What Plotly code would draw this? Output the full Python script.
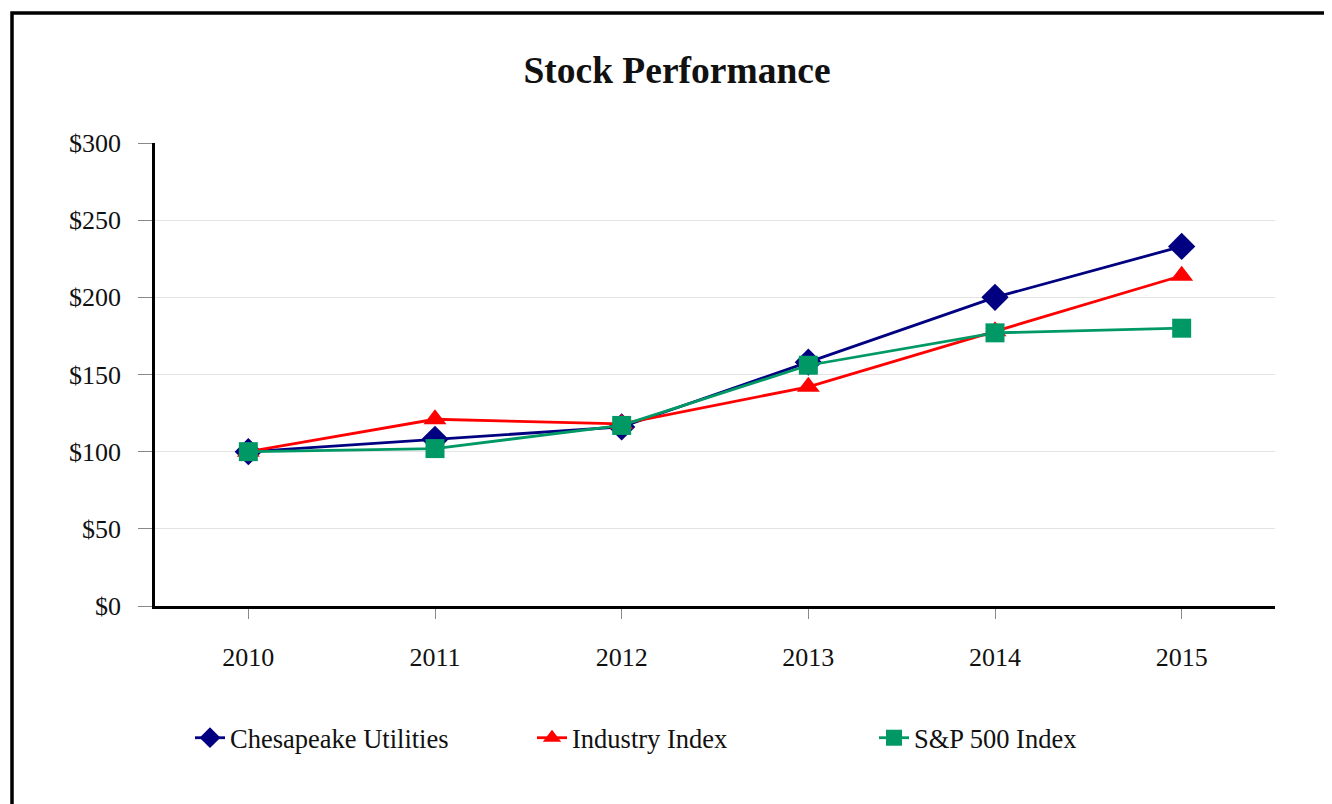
import plotly.graph_objects as go

years = ["2010", "2011", "2012", "2013", "2014", "2015"]
chesapeake = [100, 108, 116, 158, 200, 233]
industry = [100, 121, 118, 142, 178, 214]
sp500 = [100, 102, 117, 156, 177, 180]
y_ticks = [0, 50, 100, 150, 200, 250, 300]
y_tick_labels = ["$0", "$50", "$100", "$150", "$200", "$250", "$300"]

FONT = "Liberation Serif, Times New Roman, serif"
OFF = 8  # page body margin
W, H = 1332 - OFF, 804 - OFF
L, R, T, B = 155 - OFF, 1275 - OFF, 143 - OFF, 606 - OFF
PW, PH = R - L, B - T

fig = go.Figure()
fig.add_trace(go.Scatter(x=years, y=chesapeake, name="Chesapeake Utilities", mode="lines+markers",
                         line=dict(color="#000080", width=2.8),
                         marker=dict(symbol="diamond", size=21, color="#000080")))
fig.add_trace(go.Scatter(x=years, y=industry, name="Industry Index", mode="lines+markers",
                         line=dict(color="#FF0000", width=2.8),
                         marker=dict(symbol="triangle-up", size=20, color="#FF0000")))
fig.add_trace(go.Scatter(x=years, y=sp500, name="S&P 500 Index", mode="lines+markers",
                         line=dict(color="#009966", width=2.8),
                         marker=dict(symbol="square", size=19, color="#009966")))

fig.update_layout(
    width=W, height=H,
    margin=dict(l=L, r=W - R, t=T, b=H - B),
    paper_bgcolor="white", plot_bgcolor="white",
    font=dict(family=FONT, size=26, color="#111"),
    title=dict(text="<b>Stock Performance</b>", x=(677 - OFF) / W, xanchor="center",
               y=1 - (70 - OFF) / H, yanchor="middle", font=dict(family=FONT, size=37.5, color="#111")),
    showlegend=True,
    legend=dict(orientation="h", x=(190 - 155) / 1120, xanchor="left", y=(606 - 738) / 463, yanchor="middle",
                entrywidth=297, entrywidthmode="pixels", font=dict(family=FONT, size=26.5, color="#111"),
                bgcolor="rgba(0,0,0,0)"),
    hovermode=False,
)
fig.update_xaxes(type="category", range=[-0.5, 5.5], showline=True, linecolor="black", linewidth=2.5,
                 ticks="outside", ticklen=10, tickcolor="#888", tickwidth=1, showgrid=False,
                 tickfont=dict(family=FONT, size=26, color="#111"), ticklabelstandoff=16)
fig.update_yaxes(range=[0, 300], tickvals=y_ticks, ticktext=y_tick_labels, showline=True,
                 linecolor="black", linewidth=2.5, ticks="outside", ticklen=14, tickcolor="#888",
                 tickwidth=1, showgrid=True, gridcolor="#e3e3e3", gridwidth=1, zeroline=False,
                 tickfont=dict(family=FONT, size=26, color="#111"), ticklabelstandoff=12)

fig.add_shape(type="rect", xref="paper", yref="paper",
              x0=(12 - 155) / 1120, x1=(1345 - 155) / 1120,
              y0=(606 - 815) / 463, y1=(606 - 13) / 463,
              line=dict(color="black", width=3.5), fillcolor="rgba(0,0,0,0)", layer="below")

fig.write_html("out.html")
